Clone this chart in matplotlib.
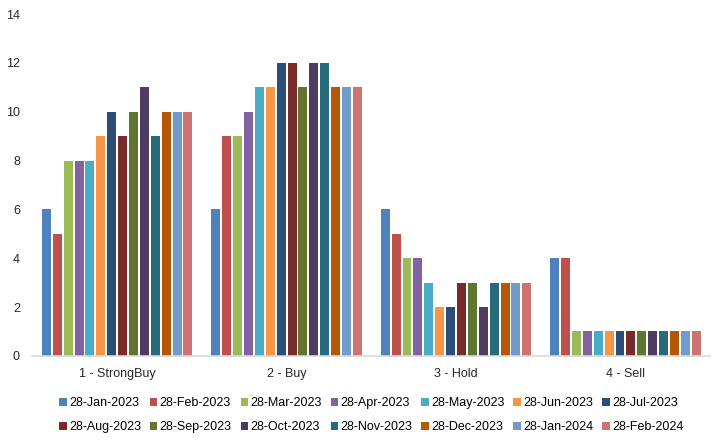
import numpy as np
import matplotlib.pyplot as plt

plt.rcParams['font.family'] = ['Liberation Sans Narrow', 'Liberation Sans', 'DejaVu Sans']

categories = ['1 - StrongBuy', '2 - Buy', '3 - Hold', '4 - Sell']
dates = ['28-Jan-2023', '28-Feb-2023', '28-Mar-2023', '28-Apr-2023', '28-May-2023',
         '28-Jun-2023', '28-Jul-2023', '28-Aug-2023', '28-Sep-2023', '28-Oct-2023',
         '28-Nov-2023', '28-Dec-2023', '28-Jan-2024', '28-Feb-2024']
strong_buy = [6, 5, 8, 8, 8, 9, 10, 9, 10, 11, 9, 10, 10, 10]
buy = [6, 9, 9, 10, 11, 11, 12, 12, 11, 12, 12, 11, 11, 11]
hold = [6, 5, 4, 4, 3, 2, 2, 3, 3, 2, 3, 3, 3, 3]
sell = [4, 4, 1, 1, 1, 1, 1, 1, 1, 1, 1, 1, 1, 1]

colors = ['#4F81BD', '#C0504D', '#9BBB59', '#8064A2', '#4BACC6', '#F79646', '#2C4D75',
          '#772C2A', '#5F7530', '#4D3B62', '#276A7C', '#B65708', '#729ACA', '#CD7371']

data = np.array([strong_buy, buy, hold, sell])  # groups x series

fig = plt.figure(figsize=(7.21, 4.41), dpi=100)
ax = fig.add_axes([0.045, 0.193, 0.94, 0.775])

n = len(dates)
x = np.arange(len(categories))
slot = 0.9 / n
bars = []
for i in range(n):
    b = ax.bar(x - 0.45 + slot * (i + 0.5), data[:, i], width=slot * 0.82,
               color=colors[i], label=dates[i])
    bars.append(b)

ax.set_xlim(-0.5, len(categories) - 0.5)
ax.set_ylim(0, 14)
ax.set_yticks(range(0, 15, 2))
ax.set_xticks(x)
ax.set_xticklabels(categories)
ax.tick_params(length=0, labelsize=9, colors='#262626')
ax.tick_params(axis='y', pad=9)
ax.tick_params(axis='x', pad=9)
for s in ['top', 'right', 'left']:
    ax.spines[s].set_visible(False)
ax.spines['bottom'].set_color('#D9D9D9')
ax.spines['bottom'].set_linewidth(1.2)

# legend fills row by row
order = []
for c in range(7):
    order += [c, c + 7]
ax.legend([bars[k] for k in order], [dates[k] for k in order],
          loc='upper center', bbox_to_anchor=(0.5, -0.088), ncol=7, frameon=False,
          fontsize=9, handlelength=0.6, handleheight=0.6, handletextpad=0.2,
          columnspacing=0.7, labelspacing=0.95)

plt.savefig('out.png', dpi=100)
